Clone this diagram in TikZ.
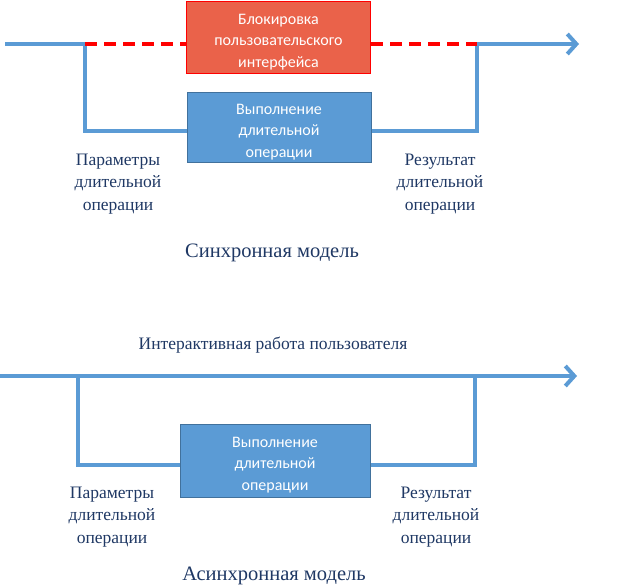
\documentclass[tikz,border=0pt]{standalone}
\usepackage{fontspec}
\setmainfont{Liberation Serif}
\newfontfamily\boxfont{Carlito}
\usetikzlibrary{arrows.meta}
\definecolor{flow}{HTML}{5B9BD5}
\definecolor{flowedge}{HTML}{41719C}
\definecolor{blockfill}{HTML}{EA624A}
\definecolor{labelc}{HTML}{1F3864}
\tikzset{
  flowline/.style={draw=flow, line width=4pt},
  flowarrow/.style={flowline, -{Straight Barb[length=9pt, width=20pt, line width=4pt]}},
  blockdash/.style={draw=red, line width=4pt, dash pattern=on 12pt off 7pt},
  opbox/.style={draw=flowedge, fill=flow, line width=1pt, minimum width=184pt, minimum height=70pt, text=white, font=\boxfont\fontsize{16}{21.5}\selectfont, align=center, inner sep=0pt, text height=61pt},
  lockbox/.style={opbox, draw=red, fill=blockfill, minimum height=72pt},
  lbl/.style={text=labelc, font=\fontsize{17.5}{22.5}\selectfont, align=center, inner sep=0pt},
  ttl/.style={text=labelc, font=\fontsize{20.5}{24}\selectfont, inner sep=0pt}
}
\begin{document}
\begin{tikzpicture}[x=1pt, y=-1pt]
\useasboundingbox (0,0) rectangle (630,588);
% ---------- synchronous ----------
\node[lockbox] (lock) at (278.5,38) {Блокировка\\пользовательского\\интерфейса};
\node[opbox] (op1) at (279,128) {Выполнение\\длительной\\операции};
\coordinate (s0) at (5,44);
\coordinate (sL) at (85,44);
\coordinate (sR) at (477,44);
\coordinate (s1) at (579,44);
\draw[flowline] (s0) -- (sL) |- (op1.west |- 0,131);
\draw[flowline] (op1.east |- 0,131) -| (sR);
\draw[flowarrow] (sR) -- (s1);
\draw[blockdash] (sL) -- (lock.west |- sL);
\draw[blockdash] (lock.east |- sR) -- (sR);
\node[lbl] (par1) at (118,184) {Параметры\\длительной\\операции};
\node[lbl] (res1) at (440,184) {Результат\\длительной\\операции};
\node[ttl] (t1) at (272,253) {Синхронная модель};
% ---------- asynchronous ----------
\node[lbl] (inter) at (273,345) {Интерактивная работа пользователя};
\node[opbox, minimum width=190pt, minimum height=72pt] (op2) at (275,461) {Выполнение\\длительной\\операции};
\coordinate (a0) at (0,376);
\coordinate (aL) at (78,376);
\coordinate (aR) at (475,376);
\coordinate (a1) at (577,376);
\draw[flowarrow] (a0) -- (a1);
\draw[flowline] (aL) |- (op2.west |- 0,465);
\draw[flowline] (op2.east |- 0,465) -| (aR);
\node[lbl] (par2) at (112,517) {Параметры\\длительной\\операции};
\node[lbl] (res2) at (436,517) {Результат\\длительной\\операции};
\node[ttl] (t2) at (274,576) {Асинхронная модель};
\end{tikzpicture}
\end{document}
